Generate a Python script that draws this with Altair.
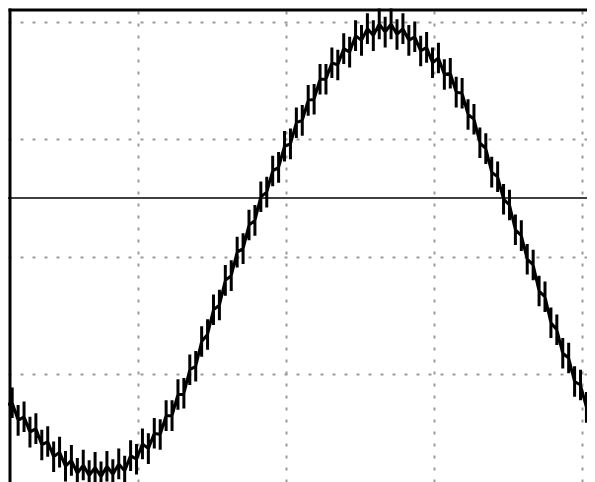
import altair as alt
import pandas as pd

# Trace centre level (mV) at each ripple step
center_mv = [
    -165, -172, -178, -185, -190, -195, -200, -206, -211, -216,
    -220, -224, -227, -230, -231, -232, -233, -233, -232, -231,
    -230, -228, -223, -218, -213, -209, -204, -197, -189, -181,
    -171, -162, -150, -139, -126, -112, -99, -87, -74, -62,
    -50, -39, -27, -15, -3, 9, 19, 30, 40, 50,
    60, 70, 79, 88, 97, 105, 111, 117, 123, 128,
    134, 138, 140, 142, 144, 145, 144, 143, 140, 138,
    133, 129, 124, 119, 115, 109, 102, 94, 85, 75,
    63, 51, 38, 26, 14, 3, -10, -23, -36, -48,
    -61, -75, -88, -102, -116, -128, -140, -152, -163, -174,
]
t_start = 0.07      # divisions
t_step = 0.04       # divisions per ripple step
spike_mv = 13       # half height of each fast spike
stagger_mv = [4, -4]  # alternate offset of the spike centres

x_grid = [1, 2, 3, 4]
y_grid = [-150, -50, 50, 150]
zero_level = [0]

rows = []
k = 0
for i, c in enumerate(center_mv):
    t = round(t_start + t_step * i, 4)
    m = c + stagger_mv[i % 2]
    for v in (m, m + spike_mv, m - spike_mv, m):
        rows.append({"t": t, "v": v, "k": k})
        k += 1
df = pd.DataFrame(rows)

xs = alt.Scale(domain=[0.1216, 4.0338], nice=False, zero=False)
ys = alt.Scale(domain=[-241.4, 161.5], nice=False, zero=False)

grid_common = dict(
    labels=False, ticks=False, title=None,
    grid=True, gridDash=[3, 9], gridColor="#9a9a9a", gridWidth=2,
    domain=True, domainColor="black", domainWidth=3, offset=-1.5,
)

trace = alt.Chart(df).mark_line(
    color="black", strokeWidth=3, clip=True, strokeJoin="bevel"
).encode(
    x=alt.X("t:Q", scale=xs, axis=alt.Axis(orient="top", values=x_grid, **grid_common)),
    y=alt.Y("v:Q", scale=ys, axis=alt.Axis(orient="left", values=y_grid, **grid_common)),
    order="k:Q",
)

zero = alt.Chart(pd.DataFrame({"v": zero_level})).mark_rule(
    color="black", strokeWidth=1.5
).encode(y=alt.Y("v:Q", scale=ys))

chart = alt.layer(zero, trace).properties(
    width=579, height=474,
    autosize=alt.AutoSizeParams(type="none"),
    padding=0,
    background="white",
).configure_view(stroke=None)

chart.save("out.html", embed_options={"renderer": "svg", "actions": False})
